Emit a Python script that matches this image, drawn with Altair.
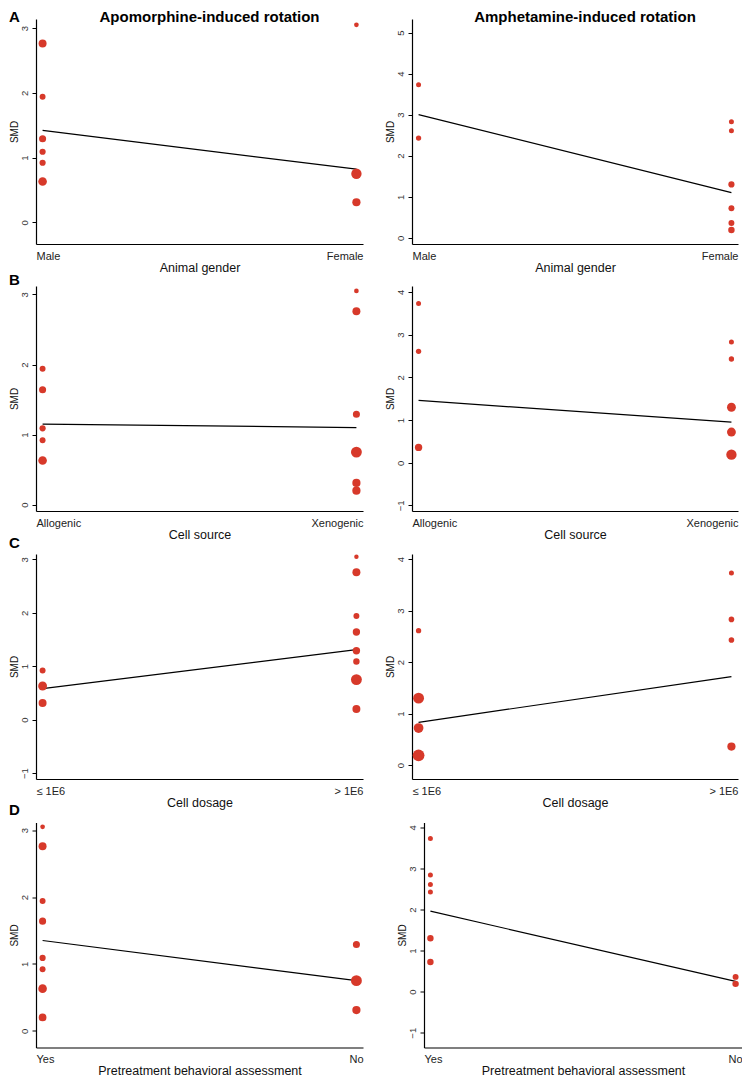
import altair as alt
import pandas as pd

RED = "#D7392A"
FONT = "Liberation Sans"

# ---------------- data ----------------
levels_gender = ["Male", "Female"]
levels_source = ["Allogenic", "Xenogenic"]
levels_dosage = ["≤ 1E6", "> 1E6"]
levels_pretreat = ["Yes", "No"]

# Apomorphine-induced rotation
apo_gender_group = [0, 0, 0, 0, 0, 0, 1, 1, 1]
apo_gender_smd = [2.76, 1.94, 1.29, 1.09, 0.92, 0.63, 3.05, 0.75, 0.31]
apo_gender_weight = [8.1, 4.5, 6.4, 4.9, 4.9, 9.4, 2.8, 13.7, 8.6]
apo_gender_fit = [1.42, 0.82]

apo_source_group = [0, 0, 0, 0, 0, 1, 1, 1, 1, 1, 1]
apo_source_smd = [1.94, 1.64, 1.09, 0.92, 0.63, 3.05, 2.76, 1.29, 0.75, 0.31, 0.20]
apo_source_weight = [4.5, 6.4, 4.9, 4.5, 9.4, 2.8, 8.1, 6.4, 15.1, 8.6, 8.6]
apo_source_fit = [1.15, 1.10]

apo_dosage_group = [0, 0, 0, 1, 1, 1, 1, 1, 1, 1, 1]
apo_dosage_smd = [0.92, 0.63, 0.31, 3.05, 2.76, 1.94, 1.64, 1.29, 1.09, 0.75, 0.20]
apo_dosage_weight = [4.5, 10.0, 8.1, 2.5, 8.1, 4.5, 6.9, 6.9, 5.3, 15.1, 8.1]
apo_dosage_fit = [0.58, 1.31]

apo_pre_group = [0, 0, 0, 0, 0, 0, 0, 0, 1, 1, 1]
apo_pre_smd = [3.05, 2.76, 1.94, 1.64, 1.09, 0.92, 0.63, 0.20, 1.29, 0.75, 0.31]
apo_pre_weight = [2.8, 8.1, 4.5, 6.4, 4.9, 4.5, 9.4, 7.6, 6.4, 15.1, 8.6]
apo_pre_fit = [1.35, 0.75]

# Amphetamine-induced rotation
amph_gender_group = [0, 0, 1, 1, 1, 1, 1, 1]
amph_gender_smd = [3.73, 2.43, 2.83, 2.61, 1.30, 0.72, 0.36, 0.19]
amph_gender_weight = [3.2, 3.6, 3.2, 3.2, 4.9, 4.5, 4.5, 5.3]
amph_gender_fit = [3.00, 1.10]

amph_source_group = [0, 0, 0, 1, 1, 1, 1, 1]
amph_source_smd = [3.73, 2.61, 0.36, 2.83, 2.43, 1.30, 0.72, 0.19]
amph_source_weight = [3.2, 3.6, 6.9, 3.2, 3.6, 10.0, 10.0, 13.7]
amph_source_fit = [1.46, 0.95]

amph_dosage_group = [0, 0, 0, 0, 1, 1, 1, 1]
amph_dosage_smd = [2.61, 1.30, 0.72, 0.19, 3.73, 2.83, 2.43, 0.36]
amph_dosage_weight = [3.6, 15.1, 12.1, 17.7, 3.2, 4.0, 4.0, 8.6]
amph_dosage_fit = [0.83, 1.72]

amph_pre_group = [0, 0, 0, 0, 0, 0, 1, 1]
amph_pre_smd = [3.73, 2.84, 2.61, 2.43, 1.30, 0.72, 0.36, 0.19]
amph_pre_weight = [3.2, 3.2, 3.2, 3.2, 5.3, 5.3, 4.5, 5.3]
amph_pre_fit = [1.96, 0.25]

# y-axis extents and ticks per panel
ydom_apo = {"gender": [-0.335, 3.14], "source": [-0.09, 3.12], "dosage": [-1.11, 3.10], "pre": [-0.25, 3.115]}
ydom_amph = {"gender": [-0.15, 5.33], "source": [-1.13, 4.14], "dosage": [-0.27, 4.10], "pre": [-1.36, 4.12]}
yticks_apo = {"gender": [0, 1, 2, 3], "source": [0, 1, 2, 3], "dosage": [-1, 0, 1, 2, 3], "pre": [0, 1, 2, 3]}
yticks_amph = {"gender": [0, 1, 2, 3, 4, 5], "source": [-1, 0, 1, 2, 3, 4], "dosage": [0, 1, 2, 3, 4], "pre": [-1, 0, 1, 2, 3, 4]}

XLO, XHI = -0.021, 1.021
H = 225


def panel(levels, group, smd, weight, fit, ydom, yticks, xtitle, width, title=None):
    pts = pd.DataFrame({"x": group, "smd": smd, "w": weight})
    fitdf = pd.DataFrame({"x": [0, 1], "smd": fit})
    label_expr = f"datum.value < 0.5 ? '{levels[0]}' : '{levels[1]}'"
    xenc = alt.X(
        "x:Q",
        scale=alt.Scale(domain=[XLO, XHI], nice=False, zero=False),
        axis=alt.Axis(
            values=[XLO, XHI], labelExpr=label_expr, labelFlush=True, ticks=False, tickSize=0,
            labelPadding=6, labelFontSize=11, labelColor="#222", title=xtitle,
            titleFontSize=12.5, titleFontWeight="normal", titlePadding=0, titleColor="#111",
            domainColor="black", domainWidth=1.2, grid=False,
        ),
    )
    yenc = alt.Y(
        "smd:Q",
        scale=alt.Scale(domain=ydom, nice=False, zero=False),
        axis=alt.Axis(
            values=yticks, format="d", labelAngle=270, labelAlign="center", labelBaseline="bottom",
            labelFontSize=9.5, labelColor="#333", labelPadding=3, tickSize=4,
            tickColor="black", domainColor="black", domainWidth=1.2, grid=False,
            title="SMD", titleFontSize=10, titleFontWeight="normal", titlePadding=0,
            titleColor="#111",
        ),
    )
    line = alt.Chart(fitdf).mark_line(color="black", strokeWidth=1.2).encode(x=xenc, y=yenc)
    dots = alt.Chart(pts).mark_circle(color=RED, opacity=1).encode(
        x="x:Q", y="smd:Q",
        size=alt.Size("w:Q", scale=alt.Scale(domain=[0, 20], range=[0, 157]), legend=None),
    )
    ch = alt.layer(line, dots).properties(width=width, height=H)
    if title:
        ch = ch.properties(title=alt.TitleParams(
            title, fontSize=15, fontWeight="bold", font=FONT, anchor="middle",
            dx=10, offset=-18, baseline="alphabetic", color="black"))
    return ch


def letter(t, off):
    return alt.TitleParams(t, anchor="start", frame="bounds", fontSize=15, fontWeight="bold",
                           font=FONT, dx=0, offset=off, color="black")


rowA = alt.hconcat(
    panel(levels_gender, apo_gender_group, apo_gender_smd, apo_gender_weight, apo_gender_fit,
          ydom_apo["gender"], yticks_apo["gender"], "Animal gender", 327, "Apomorphine-induced rotation"),
    panel(levels_gender, amph_gender_group, amph_gender_smd, amph_gender_weight, amph_gender_fit,
          ydom_amph["gender"], yticks_amph["gender"], "Animal gender", 326, "Amphetamine-induced rotation"),
    spacing=49, bounds="flush", title=letter("A", -15),
)
rowB = alt.hconcat(
    panel(levels_source, apo_source_group, apo_source_smd, apo_source_weight, apo_source_fit,
          ydom_apo["source"], yticks_apo["source"], "Cell source", 327),
    panel(levels_source, amph_source_group, amph_source_smd, amph_source_weight, amph_source_fit,
          ydom_amph["source"], yticks_amph["source"], "Cell source", 326),
    spacing=49, bounds="flush", title=letter("B", -2),
)
rowC = alt.hconcat(
    panel(levels_dosage, apo_dosage_group, apo_dosage_smd, apo_dosage_weight, apo_dosage_fit,
          ydom_apo["dosage"], yticks_apo["dosage"], "Cell dosage", 327),
    panel(levels_dosage, amph_dosage_group, amph_dosage_smd, amph_dosage_weight, amph_dosage_fit,
          ydom_amph["dosage"], yticks_amph["dosage"], "Cell dosage", 326),
    spacing=49, bounds="flush", title=letter("C", 3),
)
rowD = alt.hconcat(
    panel(levels_pretreat, apo_pre_group, apo_pre_smd, apo_pre_weight, apo_pre_fit,
          ydom_apo["pre"], yticks_apo["pre"], "Pretreatment behavioral assessment", 327),
    panel(levels_pretreat, amph_pre_group, amph_pre_smd, amph_pre_weight, amph_pre_fit,
          ydom_amph["pre"], yticks_amph["pre"], "Pretreatment behavioral assessment", 318),
    spacing=61, bounds="flush", title=letter("D", 5),
)

lower = alt.vconcat(rowB, alt.vconcat(rowC, rowD, spacing=-6.5), spacing=-5)
chart = alt.vconcat(rowA, lower, spacing=-1).properties(
    padding={"left": 0, "top": 2, "right": 0, "bottom": 0}
).configure_view(stroke=None).configure_axis(
    labelFont=FONT, titleFont=FONT
).configure_title(font=FONT)

chart.save("out.html", embed_options={"renderer": "svg", "actions": False})
